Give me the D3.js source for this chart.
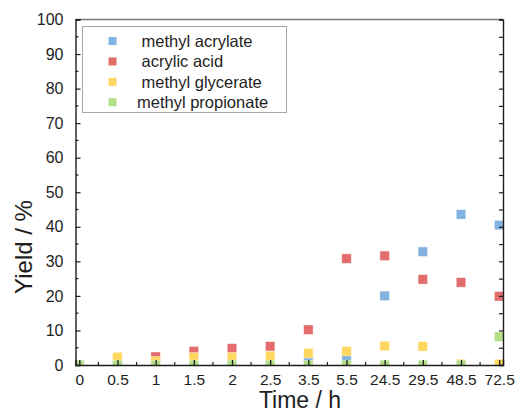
<!DOCTYPE html>
<html>
<head>
<meta charset="utf-8">
<script src="https://cdn.jsdelivr.net/npm/d3@7"></script>
<style>
  html, body { margin: 0; padding: 0; background: #fff; }
  svg { display: block; font-family: "Liberation Sans", Arial, sans-serif; }
</style>
</head>
<body>
<svg id="chart" width="518" height="413"></svg>
<script>
// ---- data ----
const categories = ["0", "0.5", "1", "1.5", "2", "2.5", "3.5", "5.5", "24.5", "29.5", "48.5", "72.5"];
const methylAcrylate   = [0, 0, 0, 0, 0, 0, 1.5, 2.0, 20.0, 32.8, 43.6, 40.5];
const acrylicAcid      = [0, 0, 2.4, 4.0, 4.8, 5.4, 10.2, 30.8, 31.6, 24.8, 23.9, 19.9];
const methylGlycerate  = [0, 2.3, 1.1, 2.2, 2.3, 2.6, 3.4, 4.0, 5.5, 5.4, 0.3, 0.3];
const methylPropionate = [0, 0, 0, 0, 0, 0, 0, 0, 0, 0, 0, 8.2];
const seriesNames = [" methyl acrylate", " acrylic acid", " methyl glycerate", "methyl propionate"];
const seriesColors = ["#84b2e0", "#e36c6c", "#ffd75e", "#b3de88"];
const yTicks = [0, 10, 20, 30, 40, 50, 60, 70, 80, 90, 100];

const series = [methylAcrylate, acrylicAcid, methylGlycerate, methylPropionate];

// ---- layout ----
const L = 75.5, R = 503, T = 19.5, B = 365;
const svg = d3.select("#chart");

const x = d3.scaleLinear().domain([-0.1, categories.length - 0.9]).range([L, R]);
const y = d3.scaleLinear().domain([0, 100]).range([B, T]);

const ink = "#1e1e1e";

// clip
svg.append("defs").append("clipPath").attr("id", "plotclip")
  .append("rect").attr("x", L).attr("y", T).attr("width", R - L).attr("height", B - T);

// ---- markers ----
const gMarks = svg.append("g").attr("clip-path", "url(#plotclip)");
const ms = 9.5;
series.forEach((vals, si) => {
  gMarks.selectAll(null)
    .data(vals.map((v, i) => ({ i, v })))
    .enter().append("rect")
    .attr("x", d => x(d.i) - ms / 2)
    .attr("y", d => y(d.v) - ms / 2)
    .attr("width", ms).attr("height", ms)
    .attr("fill", seriesColors[si])
    .attr("stroke", "#fff").attr("stroke-opacity", 0.5).attr("stroke-width", 0.8);
});

// ---- frame ----
svg.append("line").attr("x1", L).attr("x2", R).attr("y1", T).attr("y2", T)
  .attr("stroke", "#7a7a7a").attr("stroke-width", 1.6);

// left axis
const leftAxis = d3.axisLeft(y).tickValues(yTicks).tickSize(-5).tickPadding(12)
  .tickFormat(d3.format("d"));
const gl = svg.append("g").attr("transform", `translate(${L},0)`).call(leftAxis);
gl.select(".domain").attr("stroke", ink).attr("stroke-width", 1.4);
gl.selectAll(".tick line").attr("stroke", ink).attr("stroke-width", 1.2);
gl.selectAll(".tick text").attr("fill", ink).attr("font-size", 16)
  .attr("font-family", "Liberation Sans, Arial, sans-serif");
// left minor
gl.selectAll(null).data(d3.range(5, 100, 10)).enter().append("line")
  .attr("x1", 0).attr("x2", 3).attr("y1", d => y(d)).attr("y2", d => y(d))
  .attr("stroke", ink).attr("stroke-width", 1.2);

// right axis
const rightAxis = d3.axisRight(y).tickValues(d3.range(0, 101, 5)).tickSize(-4).tickFormat("");
const gr = svg.append("g").attr("transform", `translate(${R},0)`).call(rightAxis);
gr.select(".domain").attr("stroke", ink).attr("stroke-width", 1.4);
gr.selectAll(".tick line").attr("stroke", ink).attr("stroke-width", 1.2);

// bottom axis
const bottomAxis = d3.axisBottom(x).tickValues(d3.range(categories.length)).tickSize(-5)
  .tickPadding(8.5).tickFormat(i => categories[i]);
const gb = svg.append("g").attr("transform", `translate(0,${B})`).call(bottomAxis);
gb.select(".domain").attr("stroke", ink).attr("stroke-width", 1.4);
gb.selectAll(".tick line").attr("stroke", ink).attr("stroke-width", 1.3);
gb.selectAll(".tick text").attr("fill", ink).attr("font-size", 15.5)
  .attr("font-family", "Liberation Sans, Arial, sans-serif");
gb.selectAll(null).data(d3.range(0.5, categories.length - 1, 1)).enter().append("line")
  .attr("x1", d => x(d)).attr("x2", d => x(d)).attr("y1", 0).attr("y2", -3)
  .attr("stroke", ink).attr("stroke-width", 1.2);

// axis titles
svg.append("text").attr("x", 300).attr("y", 408).attr("text-anchor", "middle")
  .attr("font-size", 23).attr("fill", ink).text("Time / h");
svg.append("text").attr("transform", "translate(32,247) rotate(-90)")
  .attr("text-anchor", "middle").attr("font-size", 24).attr("fill", ink).text("Yield / %");

// ---- legend ----
const lg = svg.append("g");
lg.append("rect").attr("x", 82.5).attr("y", 26.5).attr("width", 204).attr("height", 86)
  .attr("fill", "#fff").attr("stroke", "#a8a8a8").attr("stroke-width", 1);
seriesNames.forEach((name, i) => {
  const cy = 41 + i * 20.4;
  lg.append("rect").attr("x", 108.5).attr("y", cy - 4).attr("width", 8).attr("height", 8)
    .attr("fill", seriesColors[i]);
  lg.append("text").attr("x", 137).attr("y", cy + 6)
    .attr("font-size", 16.5).attr("fill", ink)
    .style("white-space", "pre").attr("xml:space", "preserve").text(name);
});
</script>
</body>
</html>
